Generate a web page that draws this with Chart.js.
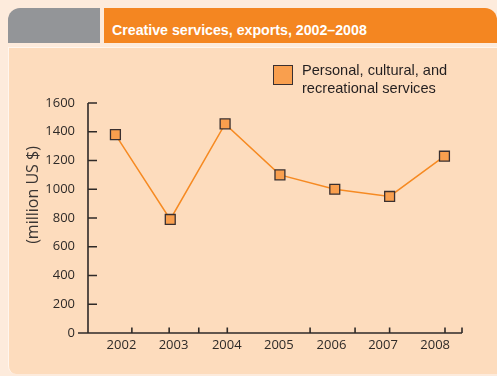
<!DOCTYPE html>
<html>
<head>
<meta charset="utf-8">
<script src="https://cdn.jsdelivr.net/npm/chart.js@4"></script>
<style>
  html, body { margin: 0; padding: 0; }
  body { width: 497px; height: 376px; background: #fdebdc; position: relative; overflow: hidden; font-family: "Liberation Sans", Arial, sans-serif; }
  .tab { position: absolute; left: 8px; top: 8px; width: 92px; height: 35px; background: #939598; border-top-left-radius: 12px; }
  .head { position: absolute; left: 104px; top: 8px; right: 0; height: 35px; background: #f48621; border-top-right-radius: 12px; }
  .head span { position: absolute; left: 8px; top: 14px; color: #fff; font-weight: bold; font-size: 14.2px; }
  .panel { position: absolute; left: 8px; top: 47px; right: 0; bottom: 2px; background: #fddcbd; border-left: 1.5px solid #fff6ee; border-top: 1.5px solid #fff6ee; border-bottom-left-radius: 8px; }
  #wrap { position: absolute; left: 8px; top: 47px; width: 489px; height: 327px; }
  .legend { position: absolute; left: 273px; top: 64px; font-size: 14.6px; color: #231f20; }
  .legend .box { position: absolute; left: 0; top: 1px; width: 18px; height: 18px; background: #f99f4e; border: 1px solid #3a3030; }
  .legend .txt { position: absolute; left: 29px; top: -2px; width: 200px; line-height: 17.5px; }
</style>
</head>
<body>
<div class="tab"></div>
<div class="head"><span id="title"></span></div>
<div class="panel"></div>
<div id="wrap"><canvas id="chart" width="489" height="327"></canvas></div>
<div class="legend"><div class="box"></div><div class="txt" id="legendText"></div></div>
<script>
let chartTitle = 'Creative services, exports, 2002–2008';
let seriesName = 'Personal, cultural, and recreational services';
let yTitle = '(million US $)';

let years = [2002, 2003, 2004, 2005, 2006, 2007, 2008];
let values = [1380, 790, 1455, 1100, 1000, 950, 1230];

// where the year labels and the little tick marks sit on the x axis (in years)
let labelAt = [2002.11, 2003.06, 2004.03, 2004.98, 2005.94, 2006.88, 2007.83];
let tickMarksAt = [2002.3, 2002.98, 2003.52, 2004.04, 2005.55, 2006.37, 2007.0, 2008.01, 2008.32];
let yTicks = [0, 200, 400, 600, 800, 1000, 1200, 1400, 1600];

document.getElementById('title').textContent = chartTitle;
document.getElementById('legendText').textContent = seriesName;

let axisColor = '#2f2a28';
let tickFont = { family: '"Open Sans", sans-serif', size: 13 };

// axis lines, inward tick marks and the y title
let axesPlugin = {
  id: 'axes',
  beforeDatasetsDraw(chart) {
    let ctx = chart.ctx;
    let x = chart.scales.x, y = chart.scales.y;
    let left = x.getPixelForValue(x.min);
    let right = x.getPixelForValue(x.max);
    let zero = y.getPixelForValue(0);
    let top = y.getPixelForValue(1600);
    ctx.save();
    ctx.strokeStyle = axisColor;
    ctx.lineWidth = 1.6;
    ctx.beginPath();
    ctx.moveTo(left, top);
    ctx.lineTo(left, zero);
    ctx.moveTo(left - 10, zero);
    ctx.lineTo(right, zero);
    yTicks.forEach(v => {
      let py = y.getPixelForValue(v);
      ctx.moveTo(left, py);
      ctx.lineTo(left + 9, py);
    });
    tickMarksAt.forEach(v => {
      let px = x.getPixelForValue(v);
      ctx.moveTo(px, zero);
      ctx.lineTo(px, zero - 5.5);
    });
    ctx.stroke();

    ctx.translate(25, 148);
    ctx.rotate(-Math.PI / 2);
    ctx.fillStyle = '#3a3533';
    ctx.font = '16px "Open Sans", sans-serif';
    ctx.textAlign = 'center';
    ctx.textBaseline = 'middle';
    ctx.fillText(yTitle, 0, 0);
    ctx.restore();
  }
};

let ctx = document.getElementById('chart').getContext('2d');
let chart = new Chart(ctx, {
  type: 'line',
  data: {
    datasets: [{
      label: seriesName,
      data: years.map((yr, i) => ({ x: yr, y: values[i] })),
      borderColor: '#f68a22',
      borderWidth: 1.5,
      backgroundColor: '#f99f4e',
      pointStyle: 'rect',
      pointRadius: 7,
      pointBorderColor: '#3a3030',
      pointBorderWidth: 1.3,
      tension: 0
    }]
  },
  options: {
    responsive: false,
    animation: false,
    layout: { padding: { top: 56, right: 35, left: 0, bottom: 0 } },
    plugins: { legend: { display: false }, tooltip: { enabled: false } },
    scales: {
      x: {
        type: 'linear',
        min: 2001.5,
        max: 2008.32,
        afterBuildTicks: axis => { axis.ticks = labelAt.map(v => ({ value: v })); },
        afterFit: axis => { axis.height = 41; },
        grid: { drawOnChartArea: false, drawTicks: false },
        border: { display: false },
        ticks: {
          autoSkip: false,
          maxRotation: 0,
          padding: 4,
          color: '#2e2a28',
          font: tickFont,
          callback: (v, i) => String(years[i])
        }
      },
      y: {
        min: 0,
        max: 1600,
        afterBuildTicks: axis => { axis.ticks = yTicks.map(v => ({ value: v })); },
        afterFit: axis => { axis.width = 80; },
        grid: { drawOnChartArea: false, drawTicks: false },
        border: { display: false },
        ticks: {
          padding: 13,
          color: '#2e2a28',
          font: tickFont,
          callback: v => String(v)
        }
      }
    }
  },
  plugins: [axesPlugin]
});
</script>
</body>
</html>
